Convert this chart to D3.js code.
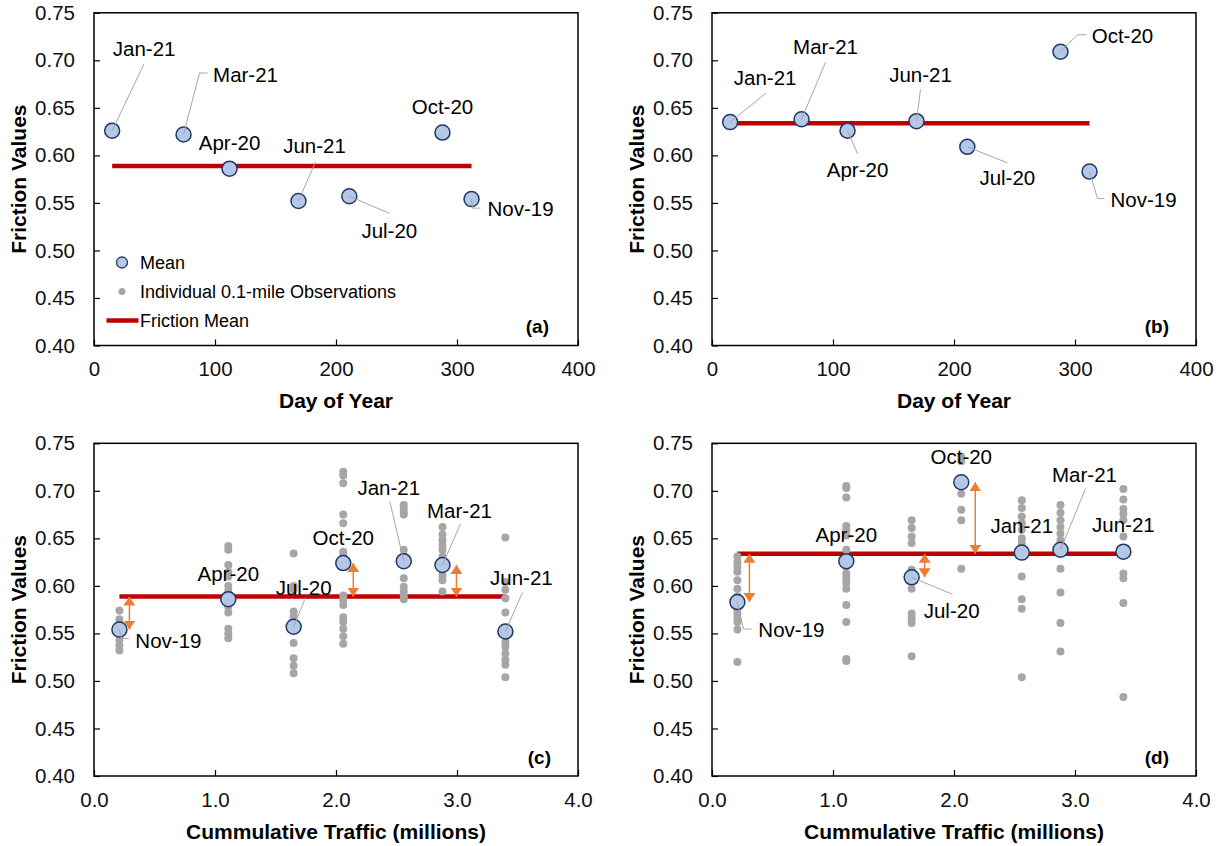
<!DOCTYPE html>
<html>
<head>
<meta charset="utf-8">
<script src="https://cdn.jsdelivr.net/npm/d3@7"></script>
<style>
  html, body { margin: 0; padding: 0; background: #fff; }
  svg { display: block; font-family: "Liberation Sans", Arial, Helvetica, sans-serif; }
</style>
</head>
<body>
<svg id="chart" width="1222" height="846"></svg>
<script>
// ---- Survey months and their x positions ----
const months = ["Nov-19", "Apr-20", "Jul-20", "Oct-20", "Jan-21", "Mar-21", "Jun-21"];
const dayOfYear = [312, 112, 211, 288, 15, 74, 169];
const trafficMillions = [0.21, 1.11, 1.65, 2.06, 2.56, 2.88, 3.40];

// ---- Mean friction per survey, two sections ----
const meanSectionA = [0.554, 0.586, 0.557, 0.624, 0.626, 0.622, 0.552];
const meanSectionB = [0.583, 0.626, 0.609, 0.709, 0.635, 0.638, 0.636];

// ---- Individual 0.1-mile observations, one list per survey (same order as months) ----
const obsSectionA = [
  [0.574, 0.565, 0.560, 0.556, 0.548, 0.543, 0.537, 0.532],
  [0.642, 0.638, 0.622, 0.615, 0.610, 0.600, 0.595, 0.590, 0.582, 0.578, 0.572, 0.555, 0.550, 0.545],
  [0.634, 0.600, 0.596, 0.573, 0.568, 0.562, 0.540, 0.524, 0.516, 0.508],
  [0.720, 0.716, 0.708, 0.675, 0.666, 0.636, 0.632, 0.590, 0.585, 0.580, 0.567, 0.562, 0.555, 0.547, 0.539],
  [0.685, 0.682, 0.678, 0.675, 0.638, 0.632, 0.608, 0.599, 0.594, 0.589, 0.586],
  [0.662, 0.654, 0.648, 0.643, 0.638, 0.631, 0.617, 0.611, 0.606, 0.594],
  [0.651, 0.604, 0.596, 0.587, 0.572, 0.541, 0.536, 0.529, 0.522, 0.517, 0.504]
];
const obsSectionB = [
  [0.631, 0.625, 0.620, 0.615, 0.606, 0.597, 0.589, 0.576, 0.571, 0.566, 0.562, 0.554, 0.520],
  [0.705, 0.703, 0.693, 0.663, 0.659, 0.653, 0.638, 0.630, 0.620, 0.613, 0.608, 0.603, 0.597, 0.580, 0.562, 0.523, 0.521],
  [0.669, 0.661, 0.652, 0.645, 0.617, 0.610, 0.597, 0.571, 0.566, 0.561, 0.526],
  [0.736, 0.731, 0.708, 0.697, 0.680, 0.669, 0.618],
  [0.690, 0.682, 0.673, 0.666, 0.659, 0.650, 0.645, 0.610, 0.586, 0.576, 0.504],
  [0.685, 0.677, 0.669, 0.662, 0.655, 0.648, 0.643, 0.618, 0.593, 0.561, 0.531],
  [0.702, 0.691, 0.681, 0.676, 0.669, 0.652, 0.634, 0.613, 0.608, 0.582, 0.483]
];

// ---- Surveys whose deviation from the overall mean is marked ----
const gapMonthsC = ["Nov-19", "Oct-20", "Mar-21"];
const gapMonthsD = ["Nov-19", "Jul-20", "Oct-20"];

// ---- Tick values ----
const dayTicks = [0, 100, 200, 300, 400];
const trafficTicks = [0, 1, 2, 3, 4];
const frictionTicks = [0.40, 0.45, 0.50, 0.55, 0.60, 0.65, 0.70, 0.75];

// ---- Styling ----
const C = {
  meanFill: "#b4c7e7", meanStroke: "#203864",
  obs: "#a6a6a6", line: "#c00000", gap: "#ed7d31", leader: "#a6a6a6", ink: "#000"
};
const FONT_TICK = 20.5, FONT_LABEL = 20.5, FONT_TITLE = 21, FONT_LEGEND = 18;

// Label placement: t = text centre offset from the point, l = leader-line vertices
const labelLayout = {
  a: {
    "Jan-21": { t: [32, -82], l: [[32, -67]] },
    "Mar-21": { t: [62, -60], l: [[16, -61.5], [24, -61.5]] },
    "Apr-20": { t: [0, -26] },
    "Jun-21": { t: [16, -55], l: [[17, -39]] },
    "Jul-20": { t: [40, 34], l: [[40, 17]] },
    "Oct-20": { t: [0, -26] },
    "Nov-19": { t: [49, 10], l: [[1, 9], [9, 9]] }
  },
  b: {
    "Jan-21": { t: [35, -44], l: [[36, -29]] },
    "Mar-21": { t: [24, -73], l: [[24, -57]] },
    "Apr-20": { t: [10, 39], l: [[10, 23]] },
    "Jun-21": { t: [4, -47], l: [[4, -32]] },
    "Jul-20": { t: [40, 31], l: [[40, 16]] },
    "Oct-20": { t: [62, -16], l: [[17, -17], [26, -17]] },
    "Nov-19": { t: [54, 28], l: [[8, 27], [15, 27]] }
  },
  c: {
    "Nov-19": { t: [49, 11], l: [[2, 9], [10, 9]] },
    "Apr-20": { t: [0, -26] },
    "Jul-20": { t: [10, -39], l: [[11, -27]] },
    "Oct-20": { t: [0, -25] },
    "Jan-21": { t: [-15, -74], l: [[-14, -60]] },
    "Mar-21": { t: [17, -54], l: [[18, -41]] },
    "Jun-21": { t: [16, -54], l: [[17, -39]] }
  },
  d: {
    "Nov-19": { t: [54, 28], l: [[6, 27], [14, 27]] },
    "Apr-20": { t: [0, -27] },
    "Jul-20": { t: [40, 33], l: [[41, 17]] },
    "Oct-20": { t: [0, -26] },
    "Jan-21": { t: [0, -27] },
    "Mar-21": { t: [24, -75], l: [[25, -61]] },
    "Jun-21": { t: [0, -27] }
  }
};
const gapOffset = {
  c: { "Nov-19": 10, "Oct-20": 10, "Mar-21": 14 },
  d: { "Nov-19": 12, "Jul-20": 13, "Oct-20": 14 }
};

const panels = [
  { id: "a", box: [94, 12.8, 578, 345.5], xs: dayOfYear, xDomain: [0, 400], xTicks: dayTicks, xFmt: d3.format("d"),
    xTitle: "Day of Year", means: meanSectionA, obs: null, gaps: [], legend: true, tag: "(a)", tagInset: 29 },
  { id: "b", box: [712, 12.8, 1196, 345.5], xs: dayOfYear, xDomain: [0, 400], xTicks: dayTicks, xFmt: d3.format("d"),
    xTitle: "Day of Year", means: meanSectionB, obs: null, gaps: [], legend: false, tag: "(b)", tagInset: 27 },
  { id: "c", box: [94, 443.3, 578, 776], xs: trafficMillions, xDomain: [0, 4], xTicks: trafficTicks, xFmt: d3.format(".1f"),
    xTitle: "Cummulative Traffic (millions)", means: meanSectionA, obs: obsSectionA, gaps: gapMonthsC, legend: false, tag: "(c)", tagInset: 27 },
  { id: "d", box: [712, 443.3, 1196, 776], xs: trafficMillions, xDomain: [0, 4], xTicks: trafficTicks, xFmt: d3.format(".1f"),
    xTitle: "Cummulative Traffic (millions)", means: meanSectionB, obs: obsSectionB, gaps: gapMonthsD, legend: false, tag: "(d)", tagInset: 27 }
];

const svg = d3.select("#chart");

// Arrowhead for the deviation markers
const defs = svg.append("defs");
defs.append("marker")
  .attr("id", "gapHead")
  .attr("viewBox", "0 0 9 12")
  .attr("refX", 9).attr("refY", 6)
  .attr("markerWidth", 9).attr("markerHeight", 12)
  .attr("markerUnits", "userSpaceOnUse")
  .attr("orient", "auto-start-reverse")
  .append("path").attr("d", "M0,0 L9,6 L0,12 Z").attr("fill", C.gap);

function drawPanel(p) {
  const [x0, y0, x1, y1] = p.box;
  const x = d3.scaleLinear().domain(p.xDomain).range([x0, x1]);
  const y = d3.scaleLinear().domain([0.40, 0.75]).range([y1, y0]);
  const g = svg.append("g").attr("class", "panel-" + p.id);

  // Axes (ticks point into the plot)
  const gx = g.append("g").attr("transform", `translate(0,${y1})`)
    .call(d3.axisBottom(x).tickValues(p.xTicks).tickFormat(p.xFmt).tickSizeInner(-6).tickSizeOuter(0).tickPadding(16));
  const gy = g.append("g").attr("transform", `translate(${x0},0)`)
    .call(d3.axisLeft(y).tickValues(frictionTicks).tickFormat(d3.format(".2f")).tickSizeInner(-6).tickSizeOuter(0).tickPadding(19));
  [gx, gy].forEach(ax => {
    ax.attr("font-family", null).attr("font-size", null);
    ax.select(".domain").remove();
    ax.selectAll(".tick line").attr("stroke", C.ink).attr("stroke-width", 1.2);
    ax.selectAll(".tick text").attr("fill", "#111").style("font-size", FONT_TICK + "px");
  });

  // Plot frame
  g.append("rect").attr("x", x0).attr("y", y0).attr("width", x1 - x0).attr("height", y1 - y0)
    .attr("fill", "none").attr("stroke", C.ink).attr("stroke-width", 1.5);

  // Axis titles
  g.append("text").attr("x", (x0 + x1) / 2).attr("y", y1 + 55 + 0.358 * FONT_TITLE)
    .attr("text-anchor", "middle").attr("font-weight", "bold").style("font-size", FONT_TITLE + "px")
    .attr("fill", C.ink).text(p.xTitle);
  const ty = (y0 + y1) / 2;
  g.append("text").attr("transform", `translate(${x0 - 76},${ty}) rotate(-90)`)
    .attr("dy", (0.358 * FONT_TITLE) + "px")
    .attr("text-anchor", "middle").attr("font-weight", "bold").style("font-size", FONT_TITLE + "px")
    .attr("fill", C.ink).text("Friction Values");

  const pts = months.map((m, i) => ({ month: m, xv: p.xs[i], mean: p.means[i] }));
  const overall = d3.mean(p.means);
  const [xMin, xMax] = d3.extent(p.xs);

  // Overall friction mean line
  g.append("line").attr("x1", x(xMin)).attr("x2", x(xMax)).attr("y1", y(overall)).attr("y2", y(overall))
    .attr("stroke", C.line).attr("stroke-width", 4.5);

  // Individual observations
  if (p.obs) {
    const flat = [];
    p.obs.forEach((list, i) => list.forEach(v => flat.push({ xv: p.xs[i], v })));
    g.selectAll("circle.obs").data(flat).join("circle").attr("class", "obs")
      .attr("cx", d => x(d.xv)).attr("cy", d => y(d.v)).attr("r", 4).attr("fill", C.obs);
  }

  // Survey means
  g.selectAll("circle.mean").data(pts).join("circle").attr("class", "mean")
    .attr("cx", d => x(d.xv)).attr("cy", d => y(d.mean)).attr("r", 7.5)
    .attr("fill", C.meanFill).attr("stroke", C.meanStroke).attr("stroke-width", 1.5);

  // Deviation arrows between survey mean and overall mean
  p.gaps.forEach(m => {
    const d = pts.find(q => q.month === m);
    const ax = x(d.xv) + gapOffset[p.id][m];
    g.append("line").attr("x1", ax).attr("x2", ax).attr("y1", y(overall)).attr("y2", y(d.mean))
      .attr("stroke", C.gap).attr("stroke-width", 1.5)
      .attr("marker-start", "url(#gapHead)").attr("marker-end", "url(#gapHead)");
  });

  // Data labels with leader lines
  pts.forEach(d => {
    const lay = labelLayout[p.id][d.month];
    const px = x(d.xv), py = y(d.mean);
    if (lay.l) {
      const path = d3.path();
      path.moveTo(px, py);
      lay.l.forEach(([dx, dy]) => path.lineTo(px + dx, py + dy));
      g.append("path").attr("d", path.toString()).attr("fill", "none")
        .attr("stroke", C.leader).attr("stroke-width", 1);
    }
    g.append("text").attr("x", px + lay.t[0]).attr("y", py + lay.t[1] + 0.358 * FONT_LABEL)
      .attr("text-anchor", "middle").style("font-size", FONT_LABEL + "px").attr("fill", C.ink)
      .text(d.month);
  });

  // Panel tag
  g.append("text").attr("x", x1 - p.tagInset).attr("y", y1 - 19 + 0.358 * 19)
    .attr("text-anchor", "end").attr("font-weight", "bold").style("font-size", "19px")
    .attr("fill", C.ink).text(p.tag);

  // Legend
  if (p.legend) {
    const lx = x0 + 28, tx = x0 + 46;
    const rows = [y1 - 83, y1 - 54, y1 - 25];
    g.append("circle").attr("cx", lx).attr("cy", rows[0]).attr("r", 5.5)
      .attr("fill", C.meanFill).attr("stroke", C.meanStroke).attr("stroke-width", 1.3);
    g.append("circle").attr("cx", lx).attr("cy", rows[1]).attr("r", 3.5).attr("fill", C.obs);
    g.append("line").attr("x1", x0 + 12.5).attr("x2", x0 + 44.5).attr("y1", rows[2]).attr("y2", rows[2])
      .attr("stroke", C.line).attr("stroke-width", 4.5);
    ["Mean", "Individual 0.1-mile Observations", "Friction Mean"].forEach((t, i) => {
      g.append("text").attr("x", tx).attr("y", rows[i] + 0.358 * FONT_LEGEND)
        .style("font-size", FONT_LEGEND + "px").attr("fill", C.ink).text(t);
    });
  }
}

panels.forEach(drawPanel);
</script>
</body>
</html>
